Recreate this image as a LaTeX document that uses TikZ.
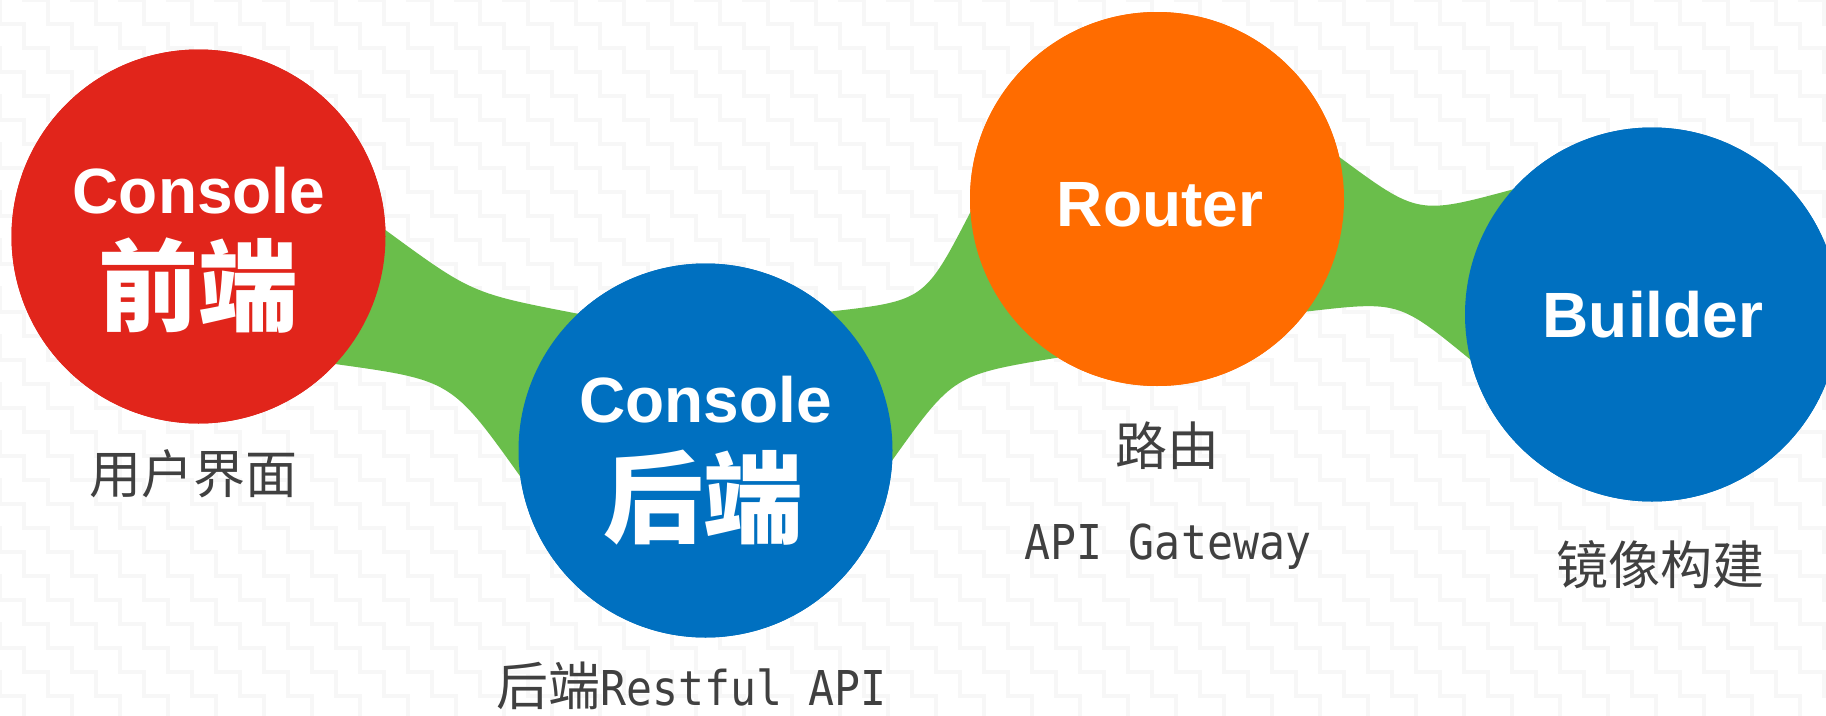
\documentclass[tikz,border=0pt]{standalone}
\usepackage{fontspec}
\setmainfont{Liberation Sans}
\newfontfamily\cjkfont{Noto Sans CJK SC}
\newfontfamily\latinsans{Liberation Sans}
\newfontfamily\monofont[FakeStretch=0.9]{DejaVu Sans Mono}

\definecolor{frontred}{HTML}{E1251B}
\definecolor{backblue}{HTML}{0070C0}
\definecolor{routeorange}{HTML}{FF6C00}
\definecolor{linkgreen}{HTML}{6ABE4B}
\definecolor{captiongray}{HTML}{404040}
\definecolor{texture}{HTML}{F7F7F7}

\tikzset{
  disc/.style={circle, minimum size=374pt, inner sep=0pt, outer sep=0pt},
  title/.style={text=white, font=\latinsans\bfseries\fontsize{64}{70}\selectfont,
                anchor=base, inner sep=0pt},
  bigcjk/.style={text=white, font=\cjkfont\bfseries\fontsize{100}{110}\selectfont,
                 inner sep=0pt},
  caption/.style={text=captiongray, font=\cjkfont\fontsize{52}{60}\selectfont,
                  inner sep=0pt},
  bgline/.style={line width=4pt, draw=texture},
  link/.style={fill=linkgreen}
}

\begin{document}
\begin{tikzpicture}[x=1pt, y=-1pt]
  \useasboundingbox (0,0) rectangle (1826,715);
  \clip (0,0) rectangle (1826,715);
  \fill[white] (0,0) rectangle (1826,715);

  % faint staircase texture in the background
  \foreach \s in {-720,-672,...,1824} {
    \draw[bgline] (\s,-24) \foreach \k in {1,...,32} { -- ++(24,0) -- ++(0,24) };
  }

  % the four stages
  \node[disc, fill=frontred]    (fe) at (198.5,236.5) {};
  \node[disc, fill=backblue]    (be) at (705.5,450.5) {};
  \node[disc, fill=routeorange] (rt) at (1157,199)    {};
  \node[disc, fill=backblue]    (bd) at (1652,314.5)  {};

  % green necks joining neighbouring stages
  \fill[link] (fe.2) .. controls (471.8,293.3) .. (be.133.5) -- (be.center)
    -- (be.188) .. controls (451.5,380.2) .. (fe.-43.3) -- (fe.center) -- cycle;
  \fill[link] (be.48.5) .. controls (924.6,300.6) .. (rt.184.3) -- (rt.center)
    -- (rt.238.8) .. controls (953.5,374.8) .. (be.-3.8) -- (be.center) -- cycle;
  \fill[link] (rt.13) .. controls (1417.9,215) .. (bd.138.4) -- (bd.center)
    -- (bd.194) .. controls (1398.7,300.9) .. (rt.-37) -- (rt.center) -- cycle;

  % redraw the discs above the necks
  \fill[frontred]    (fe.center) circle[radius=187pt];
  \fill[backblue]    (be.center) circle[radius=187pt];
  \fill[routeorange] (rt.center) circle[radius=187pt];
  \fill[backblue]    (bd.center) circle[radius=187pt];

  % disc titles
  \node[title]  (feT) at (199,213)    {Console};
  \node[bigcjk] (feC) at (198,286)    {前端};
  \node[title]  (beT) at (705.5,422)  {Console};
  \node[bigcjk] (beC) at (703,498)    {后端};
  \node[title]  (rtT) at (1160,226)   {Router};
  \node[title]  (bdT) at (1653,337.7) {Builder};

  % captions
  \node[caption] (feL) at (193,474) {用户界面};
  \node[caption, anchor=base west] (beL) at (496,705)
    {后端{\monofont\fontsize{48}{56}\selectfont Restful API}};
  \node[caption] (rtL) at (1167,446) {路由};
  \node[caption, anchor=base, font=\monofont\fontsize{48}{56}\selectfont] (rtG)
    at (1168,559.7) {API Gateway};
  \node[caption] (bdL) at (1660,565) {镜像构建};
\end{tikzpicture}
\end{document}
